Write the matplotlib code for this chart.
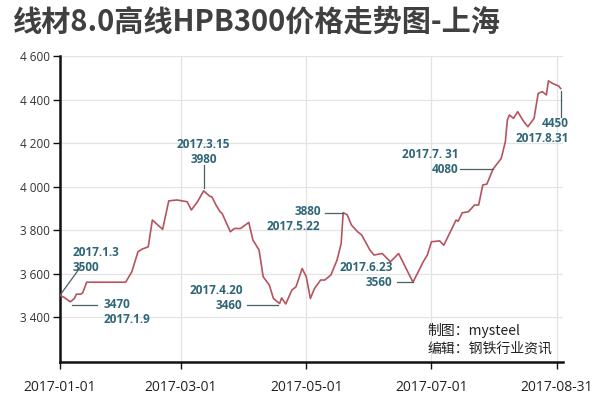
import matplotlib
matplotlib.use("Agg")
import matplotlib.pyplot as plt
import pandas as pd

plt.rcParams['font.family'] = ['Noto Sans CJK SC', 'DejaVu Sans']

title = "线材8.0高线HPB300价格走势图-上海"

dates = ["2017-01-01", "2017-01-03", "2017-01-06", "2017-01-08", "2017-01-09", "2017-01-11",
         "2017-01-12", "2017-01-14", "2017-02-02", "2017-02-05", "2017-02-08", "2017-02-10",
         "2017-02-13", "2017-02-15", "2017-02-20", "2017-02-23", "2017-02-27", "2017-03-04",
         "2017-03-06", "2017-03-09", "2017-03-12", "2017-03-15", "2017-03-16", "2017-03-18",
         "2017-03-20", "2017-03-21", "2017-03-25", "2017-03-27", "2017-03-30", "2017-04-03",
         "2017-04-05", "2017-04-08", "2017-04-10", "2017-04-13", "2017-04-15", "2017-04-18",
         "2017-04-19", "2017-04-21", "2017-04-24", "2017-04-26", "2017-04-29", "2017-05-01",
         "2017-05-03", "2017-05-05", "2017-05-08", "2017-05-10", "2017-05-13", "2017-05-16",
         "2017-05-18", "2017-05-19", "2017-05-21", "2017-05-23", "2017-05-26", "2017-05-28",
         "2017-06-01", "2017-06-03", "2017-06-07", "2017-06-11", "2017-06-15", "2017-06-22",
         "2017-06-27", "2017-06-29", "2017-07-01", "2017-07-05", "2017-07-07", "2017-07-13",
         "2017-07-14", "2017-07-16", "2017-07-19", "2017-07-22", "2017-07-24", "2017-07-26",
         "2017-07-28", "2017-07-31", "2017-08-04", "2017-08-06", "2017-08-07", "2017-08-08",
         "2017-08-10", "2017-08-12", "2017-08-15", "2017-08-17", "2017-08-20", "2017-08-22",
         "2017-08-24", "2017-08-26", "2017-08-27", "2017-08-29", "2017-09-01", "2017-09-02"]
prices = [3500, 3490, 3470, 3485, 3505, 3505,
          3510, 3560, 3560, 3608, 3700, 3712,
          3723, 3846, 3803, 3934, 3938, 3930,
          3892, 3930, 3980, 3955, 3953, 3915,
          3884, 3876, 3792, 3807, 3807, 3835,
          3754, 3708, 3585, 3547, 3485, 3462,
          3488, 3460, 3524, 3539, 3623, 3585,
          3485, 3531, 3570, 3570, 3593, 3662,
          3738, 3880, 3869, 3823, 3792, 3777,
          3708, 3685, 3692, 3654, 3692, 3560,
          3654, 3685, 3746, 3750, 3730, 3846,
          3840, 3879, 3884, 3915, 3915, 4007,
          4011, 4080, 4129, 4206, 4306, 4329,
          4313, 4344, 4298, 4275, 4313, 4428,
          4436, 4421, 4486, 4474, 4462, 4450]

xtick_labels = ["2017-01-01", "2017-03-01", "2017-05-01", "2017-07-01", "2017-08-31"]
yticks = [3400, 3600, 3800, 4000, 4200, 4400, 4600]

credit_lines = ["制图：mysteel", "编辑：钢铁行业资讯"]

x = pd.to_datetime(dates)
xt = pd.to_datetime(xtick_labels)

fig = plt.figure(figsize=(6, 4), dpi=100)
ax = fig.add_axes([0.1, 0.096, 0.838, 0.764])

ax.plot(x, prices, color="#b5545f", lw=1.2, zorder=3)

ax.set_xlim(pd.Timestamp("2017-01-01"), pd.Timestamp("2017-09-03"))
ax.set_ylim(3195, 4600)
ax.set_yticks(yticks)
ax.set_yticklabels([f"{v // 1000} {v % 1000:03d}" for v in yticks], fontsize=8.5, color="#333333",
                   family=["Open Sans", "DejaVu Sans"])
ax.set_xticks(xt)
ax.set_xticklabels(xtick_labels, fontsize=10, color="#222222", family=["Open Sans", "DejaVu Sans"])

ax.grid(True, color="#e3e3e3", lw=0.9, zorder=0)
for s in ["top", "right"]:
    ax.spines[s].set_visible(False)
for s in ["left", "bottom"]:
    ax.spines[s].set_linewidth(1.8)
    ax.spines[s].set_color("#111111")
ax.tick_params(axis="y", length=5, width=1, color="#111111", pad=2)
ax.tick_params(axis="x", length=5, width=1, color="#111111", pad=8)

fig.text(0.022, 0.945, title, fontsize=21, fontweight="bold", color="#404040", va="center", ha="left")

ann_c = "#2f6677"
line_c = "#4a5f66"
akw = dict(fontsize=8.5, fontweight="bold", color=ann_c, family=["Open Sans", "DejaVu Sans"],
           linespacing=1.2)

def D(s):
    return pd.Timestamp(s)

# 2017.1.3 3500
ax.plot([D("2017-01-01"), D("2017-01-11")], [3500, 3630], color=line_c, lw=0.9, zorder=4)
ax.text(D("2017-01-07"), 3660, "2017.1.3\n3500", ha="left", va="center", **akw)
# 3470 2017.1.9
ax.plot([D("2017-01-07"), D("2017-01-19")], [3455, 3455], color=line_c, lw=0.9, zorder=4)
ax.text(D("2017-01-22"), 3425, "3470\n2017.1.9", ha="left", va="center", **akw)
# 2017.3.15 3980
ax.plot([D("2017-03-12"), D("2017-03-12")], [3992, 4097], color=line_c, lw=0.9, zorder=4)
ax.text(D("2017-03-12"), 4160, "2017.3.15\n3980", ha="center", va="center", **akw)
# 2017.4.20 3460
ax.plot([D("2017-04-02"), D("2017-04-17")], [3455, 3455], color=line_c, lw=0.9, zorder=4)
ax.text(D("2017-03-31"), 3488, "2017.4.20\n3460", ha="right", va="center", **akw)
# 3880 2017.5.22
ax.plot([D("2017-05-10"), D("2017-05-19")], [3880, 3880], color=line_c, lw=0.9, zorder=4)
ax.text(D("2017-05-08"), 3850, "3880\n2017.5.22", ha="right", va="center", **akw)
# 2017.6.23 3560
ax.plot([D("2017-06-14"), D("2017-06-22")], [3560, 3560], color=line_c, lw=0.9, zorder=4)
ax.text(D("2017-06-12"), 3592, "2017.6.23\n3560", ha="right", va="center", **akw)
# 2017.7.31 4080
ax.plot([D("2017-07-15"), D("2017-07-31")], [4080, 4080], color=line_c, lw=0.9, zorder=4)
ax.text(D("2017-07-14"), 4112, "2017.7. 31\n4080", ha="right", va="center", **akw)
# 4450 2017.8.31
ax.plot([D("2017-09-02"), D("2017-09-02")], [4440, 4320], color=line_c, lw=0.9, zorder=4)
ax.text(D("2017-09-06"), 4255, "4450\n2017.8.31", ha="right", va="center", **akw)

fig.text(0.712, 0.173, credit_lines[0], fontsize=10, color="#222222", ha="left", va="center",
         family=["Noto Sans CJK SC", "DejaVu Sans"])
fig.text(0.712, 0.129, credit_lines[1], fontsize=10, color="#222222", ha="left", va="center",
         family=["Noto Sans CJK SC", "DejaVu Sans"])

fig.savefig("out.png", dpi=100, facecolor="white")
